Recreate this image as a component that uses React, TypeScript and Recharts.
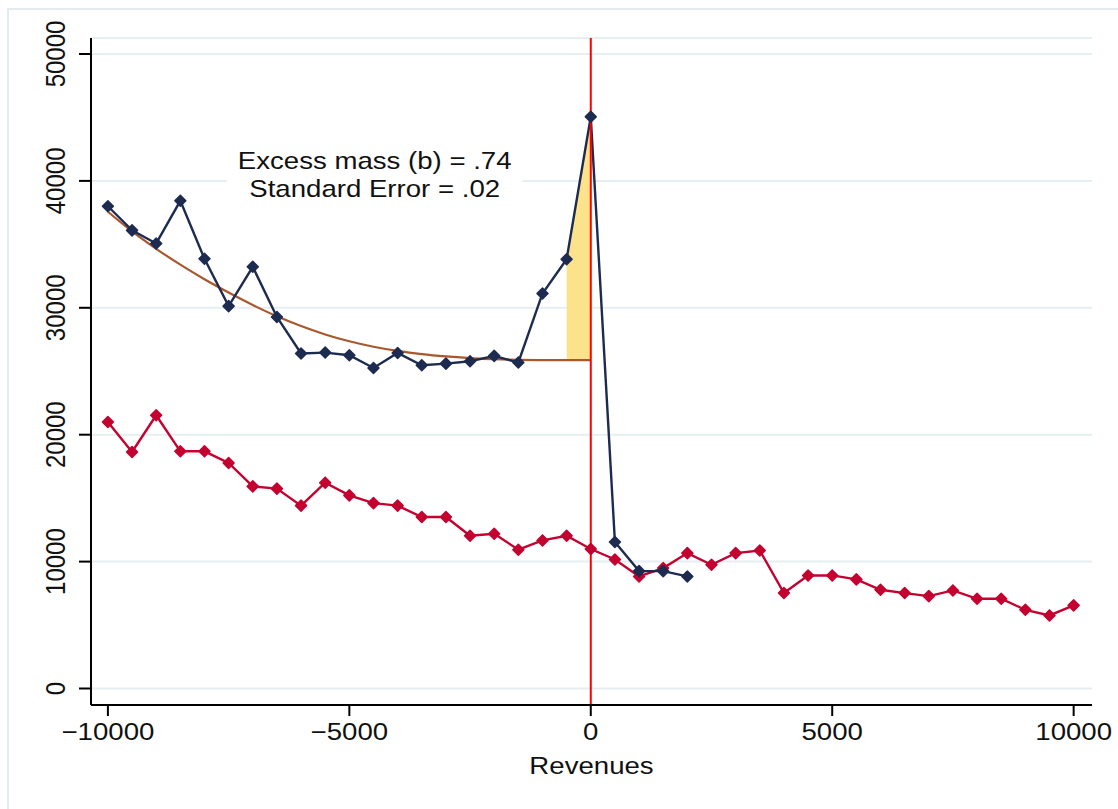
import React from 'react';
import {
  ComposedChart,
  Line,
  Area,
  XAxis,
  YAxis,
  CartesianGrid,
  ReferenceLine,
  ReferenceArea,
} from 'recharts';

// ---------- data ----------
const revenues = [
  -10000, -9500, -9000, -8500, -8000, -7500, -7000, -6500, -6000, -5500, -5000,
  -4500, -4000, -3500, -3000, -2500, -2000, -1500, -1000, -500, 0,
  500, 1000, 1500, 2000, 2500, 3000, 3500, 4000, 4500, 5000,
  5500, 6000, 6500, 7000, 7500, 8000, 8500, 9000, 9500, 10000,
];

// red series (all revenues -10000 .. 10000)
const redSeries = [
  21000, 18640, 21530, 18690, 18690, 17770, 15930, 15750, 14410, 16220, 15220,
  14610, 14410, 13510, 13510, 12040, 12200, 10940, 11670, 12040, 10990,
  10170, 8830, 9490, 10670, 9750, 10670, 10880, 7520, 8910, 8910,
  8600, 7780, 7520, 7280, 7730, 7070, 7070, 6200, 5760, 6550,
];

// navy series (revenues -10000 .. 2000)
const navySeries = [
  38000, 36100, 35070, 38430, 33860, 30130, 33230, 29280, 26400, 26470, 26260,
  25260, 26440, 25470, 25600, 25790, 26210, 25690, 31130, 33830, 45050,
  11540, 9250, 9250, 8830,
];

// counterfactual fit (revenues -10000 .. 0)
const fitSeries = [
  37570, 36020, 34650, 33400, 32250, 31200, 30220, 29330, 28560, 27900, 27360,
  26930, 26600, 26350, 26170, 26040, 25950, 25900, 25880, 25870, 25870,
];

const excessWindow = [-500, 0];
const xTicks = [-10000, -5000, 0, 5000, 10000];
const yTicks = [0, 10000, 20000, 30000, 40000, 50000];
const annotationLines = ['Excess mass (b) = .74', 'Standard Error = .02'];
const annotationBox = { x1: -7530, x2: -1420, y1: 38000, y2: 43000 };
const xAxisTitle = 'Revenues';

const NAVY = '#1d2b50';
const RED = '#c4022f';
const FIT = '#a9582d';
const YELLOW = '#fce38b';
const GRID = '#e5eef1';
const FONT = '"Liberation Sans", Arial, Helvetica, sans-serif';

const data = revenues.map((rev, i) => ({
  rev,
  red: redSeries[i],
  navy: i < navySeries.length ? navySeries[i] : null,
  fit: i < fitSeries.length ? fitSeries[i] : null,
  band: excessWindow.includes(rev) ? [fitSeries[i], navySeries[i]] : null,
}));

const makeDiamond = (color: string) => (props: any) => {
  const { cx, cy, index, value } = props;
  if (cx == null || cy == null || value == null || Number.isNaN(cy)) {
    return <g key={`d-${index}`} />;
  }
  const r = 5.5;
  return (
    <path
      key={`d-${index}`}
      d={`M${cx},${cy - r}L${cx + r},${cy}L${cx},${cy + r}L${cx - r},${cy}Z`}
      fill={color}
      stroke={color}
      strokeWidth={1.5}
      strokeLinejoin="round"
    />
  );
};

const fmt = (v: number) => (v < 0 ? '\u2212' + Math.abs(v) : String(v));

const XTick = (props: any) => {
  const { x, y, payload } = props;
  return (
    <text
      transform={`translate(${x},${y + 22}) scale(1.15,1)`}
      textAnchor="middle"
      fontFamily={FONT}
      fontSize={24}
      fill="#111"
    >
      {fmt(payload.value)}
    </text>
  );
};

const YTick = (props: any) => {
  const { x, y, payload } = props;
  return (
    <text
      transform={`translate(${x - 12},${y}) scale(1.15,1) rotate(-90)`}
      textAnchor="middle"
      fontFamily={FONT}
      fontSize={24}
      fill="#111"
    >
      {fmt(payload.value)}
    </text>
  );
};

const AnnotationLabel = (props: any) => {
  const vb = props.viewBox || {};
  const cx = vb.x + vb.width / 2;
  return (
    <g>
      {annotationLines.map((t, i) => (
        <text
          key={i}
          transform={`translate(${cx},${vb.y + 26 + i * 28}) scale(1.15,1)`}
          textAnchor="middle"
          fontFamily={FONT}
          fontSize={24}
          fill="#111"
        >
          {t}
        </text>
      ))}
    </g>
  );
};

const XTitle = (props: any) => {
  const vb = props.viewBox || {};
  return (
    <text
      transform={`translate(${vb.x + vb.width / 2},${vb.y + 69}) scale(1.15,1)`}
      textAnchor="middle"
      fontFamily={FONT}
      fontSize={24}
      fill="#111"
    >
      {xAxisTitle}
    </text>
  );
};

export default function App() {
  return (
    <div
      style={{
        position: 'absolute',
        left: 0,
        top: 0,
        width: 1118,
        height: 809,
        background: '#fff',
        overflow: 'hidden',
      }}
    >
      <div
        style={{
          position: 'absolute',
          left: 7,
          top: 8,
          width: 1130,
          height: 820,
          border: '2px solid #e3ebee',
          boxSizing: 'border-box',
        }}
      />
      <div style={{ position: 'absolute', left: 0, top: 0 }}>
        <ComposedChart
          width={1118}
          height={809}
          data={data}
          margin={{ top: 38, right: 26, bottom: 54, left: 11 }}
        >
          <CartesianGrid vertical={false} stroke={GRID} strokeWidth={2} />
          <XAxis
            dataKey="rev"
            type="number"
            domain={[-10350, 10380]}
            allowDataOverflow
            ticks={xTicks}
            interval={0}
            height={50}
            tickSize={11}
            axisLine={{ stroke: '#000', strokeWidth: 2 }}
            tickLine={{ stroke: '#000', strokeWidth: 2 }}
            tick={<XTick />}
            label={<XTitle />}
          />
          <YAxis
            type="number"
            domain={[-1300, 51260]}
            allowDataOverflow
            ticks={yTicks}
            interval={0}
            width={80}
            tickSize={12}
            axisLine={{ stroke: '#000', strokeWidth: 2 }}
            tickLine={{ stroke: '#000', strokeWidth: 2 }}
            tick={<YTick />}
          />
          <ReferenceArea
            x1={annotationBox.x1}
            x2={annotationBox.x2}
            y1={annotationBox.y1}
            y2={annotationBox.y2}
            fill="#fff"
            fillOpacity={1}
            stroke="none"
            label={<AnnotationLabel />}
          />
          <Area
            dataKey="band"
            type="linear"
            fill={YELLOW}
            fillOpacity={1}
            stroke="none"
            dot={false}
            activeDot={false}
            isAnimationActive={false}
          />
          <Line
            dataKey="fit"
            type="monotone"
            stroke={FIT}
            strokeWidth={2.2}
            dot={false}
            activeDot={false}
            isAnimationActive={false}
          />
          <Line
            dataKey="red"
            type="linear"
            stroke={RED}
            strokeWidth={2.4}
            dot={makeDiamond(RED)}
            activeDot={false}
            isAnimationActive={false}
          />
          <Line
            dataKey="navy"
            type="linear"
            stroke={NAVY}
            strokeWidth={2.4}
            dot={makeDiamond(NAVY)}
            activeDot={false}
            isAnimationActive={false}
          />
          <ReferenceLine x={0} stroke="#ff0000" strokeWidth={2} />
        </ComposedChart>
      </div>
    </div>
  );
}
